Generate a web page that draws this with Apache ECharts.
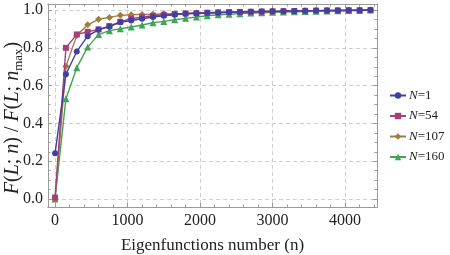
<!DOCTYPE html>
<html><head><meta charset="utf-8">
<script src="https://cdn.jsdelivr.net/npm/echarts@6/dist/echarts.min.js"></script>
<style>html,body{margin:0;padding:0;background:#fff}#c{width:450px;height:255px}</style>
</head><body><div id="c"></div>
<script>
var nValues = [0,150,300,450,600,750,900,1050,1200,1350,1500,1650,1800,1950,2100,2250,2400,2550,2700,2850,3000,3150,3300,3450,3600,3750,3900,4050,4200,4350];
var seriesNames = ['N=1','N=54','N=107','N=160'];
var valsN1   = [0.242,0.660,0.781,0.862,0.896,0.913,0.935,0.945,0.954,0.963,0.970,0.975,0.980,0.982,0.984,0.986,0.988,0.990,0.991,0.992,0.993,0.994,0.995,0.996,0.997,0.998,0.998,0.999,0.999,1.000];
var valsN54  = [0.008,0.800,0.871,0.885,0.898,0.915,0.938,0.954,0.963,0.970,0.975,0.979,0.982,0.984,0.986,0.988,0.989,0.990,0.991,0.992,0.993,0.994,0.995,0.996,0.997,0.998,0.998,0.999,0.999,1.000];
var valsN107 = [0.000,0.702,0.866,0.922,0.951,0.961,0.972,0.975,0.977,0.978,0.980,0.981,0.982,0.984,0.985,0.987,0.988,0.989,0.990,0.991,0.992,0.993,0.994,0.995,0.996,0.997,0.998,0.998,0.999,1.000];
var valsN160 = [0.000,0.531,0.695,0.804,0.870,0.891,0.901,0.910,0.921,0.933,0.940,0.949,0.956,0.963,0.970,0.975,0.978,0.981,0.984,0.986,0.988,0.990,0.991,0.992,0.993,0.995,0.996,0.997,0.998,1.000];
var xMajor = [0,1000,2000,3000,4000];
var xMinor = [200,400,600,800,1200,1400,1600,1800,2200,2400,2600,2800,3200,3400,3600,3800,4200,4400];
var yMajor = [0,0.2,0.4,0.6,0.8,1.0];
var yMinor = [0.05,0.1,0.15,0.25,0.3,0.35,0.45,0.5,0.55,0.65,0.7,0.75,0.85,0.9,0.95];
var xTickLabels = ['0','1000','2000','3000','4000'];
var yTickLabels = ['0.0','0.2','0.4','0.6','0.8','1.0'];

var colors = ['#423fa3','#a3407c','#a37b40','#40a356'];
var symbols = ['circle','rect','diamond','triangle'];
var symSizes = [6,6,7,7];
var allVals = [valsN1, valsN54, valsN107, valsN160];
var serif = 'Liberation Serif';
var frameColor = '#9a9a9a';
var XMIN = -97, XMAX = 4440, YMIN = -0.042, YMAX = 1.032;

function xAxisDef(pos, ticks, len, labels, grid) {
  return {
    type:'value', position:pos, min:XMIN, max:XMAX,
    axisLine:{show:true, onZero:false, lineStyle:{color:frameColor, width:1}},
    axisTick:{show:true, inside:true, length:len, customValues:ticks, lineStyle:{color:frameColor}},
    axisLabel:{show:!!labels, customValues:ticks, margin:6, fontFamily:serif, fontSize:16, color:'#222',
      formatter:function(v){ var i = xMajor.indexOf(v); return i>=0 ? xTickLabels[i] : ''; }},
    splitLine:{show:!!grid, lineStyle:{color:'#cfcfcf', type:[4,3], width:1}},
    minorTick:{show:false}
  };
}
function yAxisDef(pos, ticks, len, labels, grid) {
  return {
    type:'value', position:pos, min:YMIN, max:YMAX,
    axisLine:{show:true, onZero:false, lineStyle:{color:frameColor, width:1}},
    axisTick:{show:true, inside:true, length:len, customValues:ticks, lineStyle:{color:frameColor}},
    axisLabel:{show:!!labels, customValues:ticks, margin:5, fontFamily:serif, fontSize:16, color:'#222',
      formatter:function(v){ for (var i=0;i<yMajor.length;i++){ if (Math.abs(yMajor[i]-v)<1e-9) return yTickLabels[i]; } return ''; }},
    splitLine:{show:!!grid, lineStyle:{color:'#cfcfcf', type:[4,3], width:1}},
    minorTick:{show:false}
  };
}

var series = seriesNames.map(function(name, k){
  return {
    name:name, type:'line', xAxisIndex:0, yAxisIndex:0,
    data: nValues.map(function(n,i){ return [n, allVals[k][i]]; }),
    symbol:symbols[k], symbolSize:symSizes[k], showSymbol:true,
    lineStyle:{color:colors[k], width:1.4}, itemStyle:{color:colors[k]},
    z: 10 - k, animation:false
  };
});

var chart = echarts.init(document.getElementById('c'), null, {renderer:'canvas'});
chart.setOption({
  animation:false,
  color:colors,
  grid:{left:48, right:73, top:4, bottom:48, containLabel:false, outerBoundsMode:'none'},
  xAxis:[
    Object.assign(xAxisDef('bottom', xMajor, 4, true, true), {
      name:'Eigenfunctions number (n)', nameLocation:'middle', nameGap:30,
      nameTextStyle:{fontFamily:serif, fontSize:17, color:'#222'}}),
    xAxisDef('bottom', xMinor, 2.5, false, false),
    xAxisDef('top', xMajor, 4, false, false),
    xAxisDef('top', xMinor, 2.5, false, false)
  ],
  yAxis:[
    yAxisDef('left', yMajor, 4, true, true),
    yAxisDef('left', yMinor, 2.5, false, false),
    yAxisDef('right', yMajor, 4, false, false),
    yAxisDef('right', yMinor, 2.5, false, false)
  ],
  legend:{
    orient:'vertical', left:389, top:89, padding:0, itemWidth:16, itemHeight:8, itemGap:7.5,
    data:seriesNames,
    textStyle:{fontFamily:serif, fontSize:13, color:'#222', padding:[0,0,0,-2],
      rich:{i:{fontStyle:'italic', fontFamily:serif, fontSize:13, color:'#222'}, r:{fontFamily:serif, fontSize:13, color:'#222'}}},
    formatter:function(name){ var p = name.split('='); return '{i|' + p[0] + '}{r|=' + p[1] + '}'; }
  },
  graphic:[{
    type:'text', x:13, y:118, rotation:Math.PI/2, z:100,
    style:{
      text:'{i|F}{r|(}{i|L}{r|; }{i|n}{r|) / }{i|F}{r|(}{i|L}{r|; }{i|n}{s|max}{r|)}',
      align:'center', verticalAlign:'middle', fill:'#222',
      rich:{
        i:{fontStyle:'italic', fontFamily:serif, fontSize:20, lineHeight:24, fill:'#222'},
        r:{fontFamily:serif, fontSize:20, lineHeight:24, fill:'#222'},
        s:{fontFamily:serif, fontSize:13, lineHeight:14, verticalAlign:'bottom', fill:'#222'}
      }
    }
  }],
  series:series
});
</script></body></html>
